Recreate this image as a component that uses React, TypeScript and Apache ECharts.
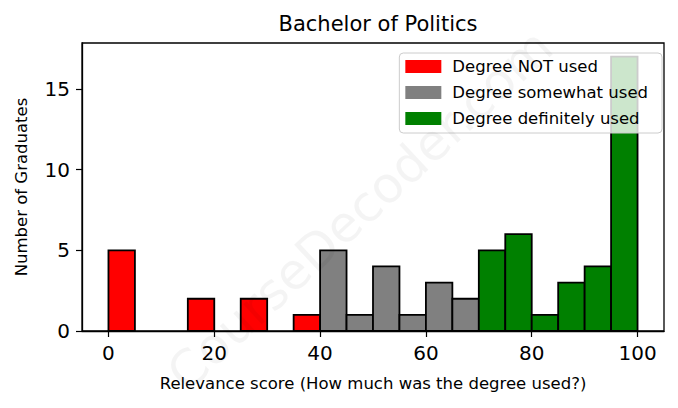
import React, { useEffect, useRef } from "react";
import * as echarts from "echarts";

const binStarts = [0, 5, 10, 15, 20, 25, 30, 35, 40, 45, 50, 55, 60, 65, 70, 75, 80, 85, 90, 95];
const binWidth = 5;
const notUsedCounts = [5, 0, 0, 2, 0, 2, 0, 1];
const somewhatCounts = [5, 1, 4, 1, 3, 2];
const definitelyCounts = [5, 6, 1, 3, 4, 17];
const seriesNames = ["Degree NOT used", "Degree somewhat used", "Degree definitely used"];
const seriesColors = ["#ff0000", "#808080", "#008000"];
const xTicks = [0, 20, 40, 60, 80, 100];
const yTicks = [0, 5, 10, 15];

function buildData(offset: number, counts: number[]) {
  return counts.map((c, i) => {
    const s = binStarts[offset + i];
    return [s, s + binWidth, c];
  });
}

export default function App() {
  const ref = useRef<HTMLDivElement>(null);
  useEffect(() => {
    if (!ref.current) return;
    const chart = echarts.init(ref.current, null, { renderer: "svg" });
    const groups = [
      buildData(0, notUsedCounts),
      buildData(notUsedCounts.length, somewhatCounts),
      buildData(notUsedCounts.length + somewhatCounts.length, definitelyCounts),
    ];
    const font = "DejaVu Sans";
    const series = groups.map((data, gi) => ({
      type: "custom",
      name: seriesNames[gi],
      itemStyle: { color: seriesColors[gi] },
      encode: { x: [0, 1], y: 2 },
      data,
      renderItem: (params: any, api: any) => {
        const v = api.value(2);
        if (!v) return null;
        const p0 = api.coord([api.value(0), 0]);
        const p1 = api.coord([api.value(1), v]);
        return {
          type: "rect",
          shape: { x: p0[0], y: p1[1], width: p1[0] - p0[0], height: p0[1] - p1[1] },
          style: { fill: seriesColors[gi], stroke: "#000", lineWidth: 1.8 },
        };
      },
    }));
    chart.setOption({
      animation: false,
      title: {
        text: "Bachelor of Politics",
        left: 373,
        textAlign: "center",
        top: 8,
        textStyle: { fontFamily: font, fontWeight: "normal", fontSize: 21, color: "#000" },
      },
      legend: {
        orient: "vertical",
        right: 16,
        top: 53,
        icon: "rect",
        itemWidth: 36,
        itemHeight: 13,
        itemGap: 9,
        padding: [5, 14, 6, 6],
        backgroundColor: "rgba(255,255,255,0.8)",
        borderColor: "#cccccc",
        borderWidth: 1,
        borderRadius: 4,
        textStyle: { fontFamily: font, fontSize: 16.5, color: "#000", padding: [0, 0, 0, 6] },
        data: seriesNames,
      },
      grid: {
        left: 82,
        right: 14,
        top: 43,
        bottom: 77,
        show: true,
        borderColor: "#000",
        borderWidth: 1.3,
        backgroundColor: "transparent",
      },
      xAxis: {
        type: "value",
        min: -5,
        max: 105,
        name: "Relevance score (How much was the degree used?)",
        nameLocation: "middle",
        nameGap: 44,
        nameTextStyle: { fontFamily: font, fontSize: 16.5, color: "#000" },
        axisLine: { show: true, onZero: false, lineStyle: { color: "#000", width: 1.3 } },
        axisTick: { show: true, customValues: xTicks, length: 6, lineStyle: { color: "#000", width: 1.2 } },
        axisLabel: { customValues: xTicks, fontFamily: font, fontSize: 20, color: "#000", margin: 12 },
        splitLine: { show: false },
      },
      yAxis: {
        type: "value",
        min: 0,
        max: 17.85,
        name: "Number of Graduates",
        nameLocation: "middle",
        nameGap: 52,
        nameTextStyle: { fontFamily: font, fontSize: 16.5, color: "#000" },
        axisLine: { show: true, onZero: false, lineStyle: { color: "#000", width: 1.3 } },
        axisTick: { show: true, customValues: yTicks, length: 6, lineStyle: { color: "#000", width: 1.2 } },
        axisLabel: { customValues: yTicks, fontFamily: font, fontSize: 20, color: "#000", margin: 12 },
        splitLine: { show: false },
      },
      graphic: [
        {
          type: "text",
          x: 360,
          y: 210,
          rotation: Math.PI / 4.2,
          z: 100,
          style: {
            text: "CourseDecoder.com",
            fontFamily: font,
            fontSize: 50,
            fill: "rgba(0,0,0,0.045)",
            align: "center",
            verticalAlign: "middle",
          },
        },
      ],
      series,
    });
    return () => chart.dispose();
  }, []);
  return <div ref={ref} style={{ width: 678, height: 408, margin: -8 }} />;
}
